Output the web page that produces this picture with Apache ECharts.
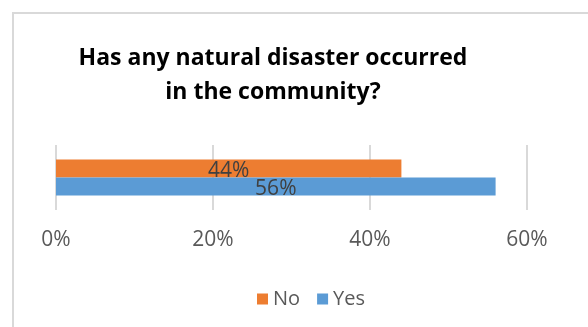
<!DOCTYPE html>
<html>
<head>
<meta charset="UTF-8">
<script src="https://cdn.jsdelivr.net/npm/echarts@6/dist/echarts.min.js"></script>
<style>
  html, body { margin: 0; padding: 0; background: #fff; }
  #chart { width: 588px; height: 327px; }
</style>
</head>
<body>
<div id="chart"></div>
<script>
  // datos
  const categories = ['Has any natural disaster occurred in the community?'];
  const seriesNames = ['No', 'Yes'];
  const noValues = [44];
  const yesValues = [56];
  const tickMax = 60;
  const tickStep = 20;

  const chart = echarts.init(document.getElementById('chart'));

  const labelStyle = {
    show: true,
    position: 'inside',
    formatter: '{c}%',
    color: '#404040',
    fontFamily: 'Open Sans',
    fontSize: 21,
    offset: [0, 3]
  };

  chart.setOption({
    backgroundColor: '#fff',
    animation: false,
    graphic: [{
      type: 'rect',
      shape: { x: 13, y: 13, width: 700, height: 500 },
      style: { fill: 'none', stroke: '#D9D9D9', lineWidth: 2 }
    }],
    title: {
      text: 'Has any natural disaster occurred\nin the community?',
      left: 268,
      textAlign: 'center',
      top: 36,
      textStyle: {
        fontFamily: 'Open Sans',
        fontWeight: 'bold',
        fontSize: 23,
        lineHeight: 34,
        color: '#000'
      }
    },
    legend: {
      data: seriesNames,
      left: 252,
      top: 284,
      icon: 'rect',
      itemWidth: 11,
      itemHeight: 11,
      itemGap: 17,
      textStyle: { fontFamily: 'Open Sans', fontSize: 20, color: '#595959' }
    },
    grid: { left: 56, right: 61, top: 145, height: 65 },
    xAxis: {
      type: 'value',
      min: 0,
      max: tickMax,
      interval: tickStep,
      axisLine: { show: false },
      axisTick: { show: false },
      splitLine: { lineStyle: { color: '#D9D9D9', width: 2 } },
      axisLabel: {
        formatter: '{value}%',
        margin: 20,
        fontFamily: 'Open Sans',
        fontSize: 21,
        color: '#595959'
      }
    },
    yAxis: {
      type: 'category',
      data: categories,
      axisLine: { show: false },
      axisTick: { show: false },
      axisLabel: { show: false }
    },
    series: [
      {
        name: 'No',
        type: 'bar',
        data: noValues,
        barWidth: 18,
        barGap: '0%',
        itemStyle: { color: '#ED7D31' },
        label: labelStyle
      },
      {
        name: 'Yes',
        type: 'bar',
        data: yesValues,
        barWidth: 18,
        barGap: '0%',
        itemStyle: { color: '#5B9BD5' },
        label: labelStyle
      }
    ]
  });
</script>
</body>
</html>
